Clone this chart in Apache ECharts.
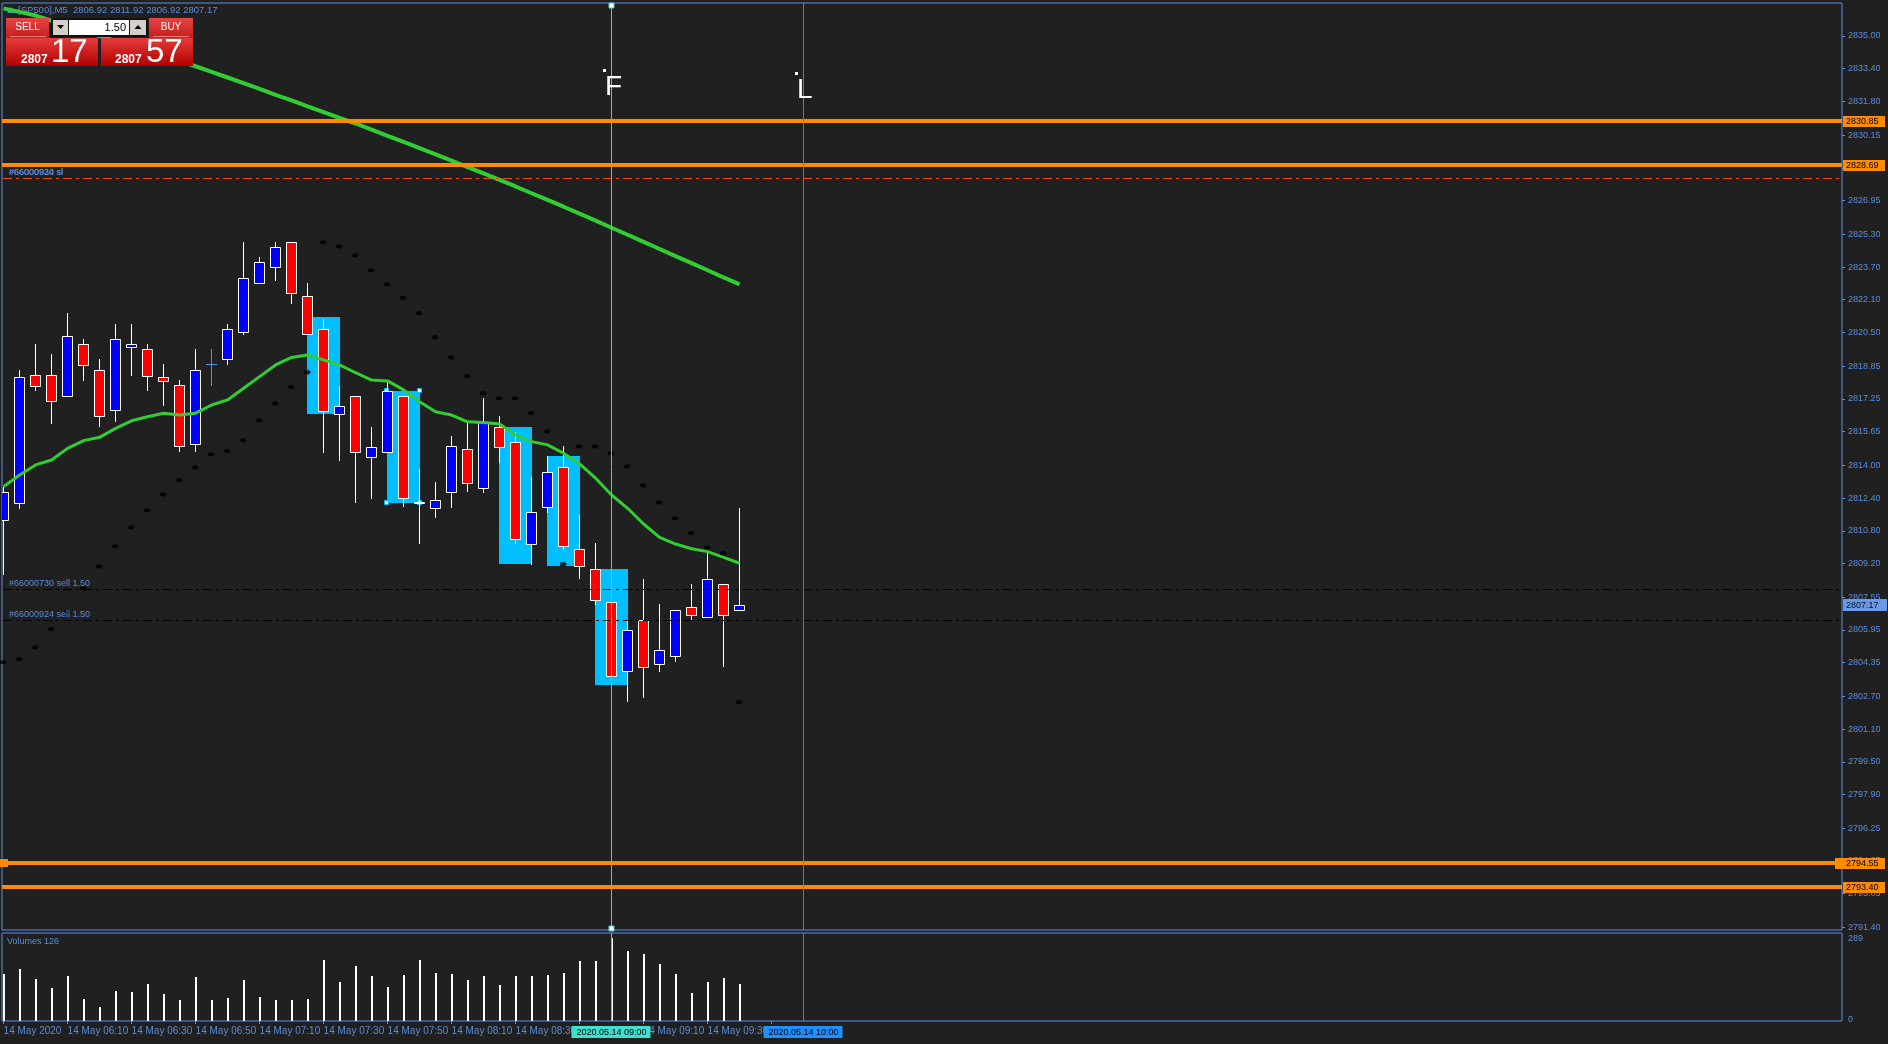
<!DOCTYPE html>
<html>
<head>
<meta charset="utf-8">
<title>[SP500],M5</title>
<script src="https://cdn.jsdelivr.net/npm/echarts@6.0.0/dist/echarts.min.js"></script>
<style>
html,body{margin:0;padding:0;background:#202020;overflow:hidden;}
#chart{width:1888px;height:1044px;}
</style>
</head>
<body>
<div id="chart"></div>
<script>
// ================= DATA =================
const symbolName = '[SP500],M5';
const timeLabels = ['14 May 2020','14 May 06:10','14 May 06:30','14 May 06:50','14 May 07:10','14 May 07:30',
  '14 May 07:50','14 May 08:10','14 May 08:30','14 May 08:50','14 May 09:10','14 May 09:30','14 May 09:50'];
const timeLabelIdx = [0,4,8,12,16,20,24,28,32,36,40,44,48];

const opens = [2811.31,2812.14,2818.40,2818.40,2817.41,2819.92,2818.65,2816.69,2819.77,2819.68,
  2818.31,2817.92,2815.03,2818.94,2819.19,2820.54,2822.90,2823.69,2824.91,2822.27,
  2820.65,2816.50,2817.38,2814.39,2814.64,2817.39,2812.20,2811.90,2812.68,2814.78,
  2812.88,2815.86,2815.13,2810.14,2811.95,2813.90,2809.89,2808.92,2807.30,2803.92,
  2806.42,2804.27,2804.66,2807.06,2806.57,2808.18,2806.92];
const highs = [2812.93,2818.66,2819.94,2819.45,2821.45,2820.18,2819.20,2820.91,2820.91,2819.94,
  2818.96,2818.17,2819.69,2819.69,2820.91,2824.92,2824.19,2824.92,2824.91,2822.92,
  2821.14,2817.87,2817.38,2815.89,2818.17,2817.39,2813.82,2813.19,2815.44,2816.13,
  2817.29,2816.41,2815.62,2813.43,2814.46,2814.95,2811.56,2810.19,2810.68,2806.42,
  2808.44,2807.22,2806.91,2808.20,2809.73,2808.18,2811.92];
const lows = [2808.64,2811.88,2817.65,2816.02,2817.35,2818.14,2815.89,2816.13,2818.38,2817.65,
  2816.92,2814.67,2814.67,2817.90,2818.92,2820.39,2822.90,2823.03,2821.91,2820.41,
  2814.62,2814.23,2812.14,2812.37,2814.64,2811.98,2810.14,2811.41,2811.90,2812.68,
  2812.63,2814.13,2810.14,2809.14,2811.65,2809.87,2808.43,2807.15,2803.44,2802.42,
  2802.63,2803.91,2804.40,2806.40,2806.57,2804.15,2806.92];
const closes = [2812.70,2818.31,2817.90,2817.16,2820.31,2818.92,2816.40,2820.16,2819.92,2818.38,
  2818.14,2814.93,2818.65,2818.94,2820.65,2823.15,2823.93,2824.66,2822.42,2820.41,
  2816.64,2816.89,2814.64,2814.88,2817.64,2812.39,2812.17,2812.29,2814.93,2813.12,
  2816.11,2814.88,2810.38,2811.70,2813.66,2810.04,2809.06,2807.40,2803.68,2805.93,
  2804.15,2804.95,2806.91,2806.67,2808.43,2806.67,2807.17];
const volumes = [162,180,144,112,155,73,44,101,98,126,
  90,69,151,69,76,140,80,69,69,73,
  212,133,190,155,115,158,212,165,162,140,
  155,122,155,155,158,165,208,208,289,244,
  233,197,162,94,133,147,126];
const maFast = [2812.96,2813.53,2814.02,2814.26,2814.83,2815.21,2815.37,2815.81,2816.18,2816.38,
  2816.55,2816.46,2816.55,2816.95,2817.20,2817.77,2818.34,2818.91,2819.28,2819.40,
  2819.15,2818.91,2818.53,2818.17,2818.13,2817.69,2817.11,2816.62,2816.46,2816.13,
  2816.09,2816.02,2815.48,2815.16,2815.00,2814.59,2814.07,2813.37,2812.55,2811.90,
  2811.13,2810.48,2810.15,2809.92,2809.78,2809.50,2809.21];
const maSlow = [2836.35,2836.18,2836.00,2835.75,2835.50,2835.25,2835.00,2834.76,2834.51,2834.26,
  2834.02,2833.77,2833.52,2833.24,2832.97,2832.69,2832.41,2832.12,2831.85,2831.56,
  2831.28,2831.00,2830.72,2830.42,2830.12,2829.82,2829.52,2829.21,2828.90,2828.59,
  2828.28,2827.96,2827.64,2827.31,2826.98,2826.65,2826.31,2825.97,2825.62,2825.28,
  2824.93,2824.58,2824.23,2823.89,2823.54,2823.19,2822.85];
const sar = [2804.37,2804.51,2805.10,2805.98,2806.81,2807.99,2809.06,2810.04,2810.97,2811.80,
  2812.58,2813.27,2813.90,2814.54,2814.69,2815.22,2816.20,2817.03,2817.82,2818.55,
  2824.91,2824.71,2824.27,2823.54,2822.86,2822.19,2821.44,2820.26,2819.28,2818.36,
  2817.52,2817.28,2817.28,2816.55,2815.67,2809.16,2814.93,2814.93,2814.59,2813.95,
  2813.02,2812.19,2811.41,2810.68,2809.99,2809.70,2802.42];
const priceTicks = [2835.00,2833.40,2831.80,2830.15,2828.55,2826.95,2825.30,2823.70,2822.10,2820.50,
  2818.85,2817.25,2815.65,2814.00,2812.40,2810.80,2809.20,2807.55,2805.95,2804.35,
  2802.70,2801.10,2799.50,2797.90,2796.25,2794.65,2793.05,2791.40];
const volumeTicks = [0, 289];
const levels = [2830.85, 2828.69, 2794.55, 2793.40];
const levelSelected = [false, false, true, false];
const orderPrices = [2828.04, 2828.04, 2807.94, 2806.42];
const orderTexts = ['#66000930 sl', '#66000924 sl', '#66000730 sell 1.50', '#66000924 sell 1.50'];
const orderKinds = ['sl', 'sl', 'open', 'open'];
const boxStart = [19, 24, 31, 34, 37];
const boxEnd = [21, 26, 33, 36, 39];
const boxHigh = [2821.26, 2817.64, 2815.88, 2814.46, 2808.93];
const boxLow = [2816.53, 2812.17, 2809.19, 2809.08, 2803.26];
const boxSelected = [false, true, false, false, false];
const vlineIdx = [38, 50];
const vlineLabels = ['2020.05.14 09:00', '2020.05.14 10:00'];
const textMarkIdx = [37.5, 49.5];
const textMarkPrice = [2833.39, 2833.24];
const textMarkText = ['F', 'L'];
const askPrice = 2807.57;
const lotSize = '1.50';

// ================= STYLE =================
const BG = '#202020';
const BLUE_TXT = '#5a8cdc';
const FRAME = '#5a8ce6';
const UP_COLOR = '#0000ff';
const DOWN_COLOR = '#ff0000';
const DOJI_COLOR = '#5c8ee0';
const ORANGE = '#ff8c00';
const CYAN_BOX = '#00bfff';
const GREEN = '#32cd32';
const FONT = '"Liberation Sans", Arial, sans-serif';
const VLINE_COLORS = ['#4fc9c9', '#3f82d8'];
const VLINE_BOX = ['#40e0d0', '#1e90ff'];

const N = opens.length;
const lastIdx = N - 1;
const bid = closes[lastIdx];

// ================= RENDERERS =================
function renderCandle(params, api) {
  const i = api.value(0), o = api.value(1), h = api.value(2), l = api.value(3), c = api.value(4);
  const pO = api.coord([i, o]);
  const px = Math.floor(pO[0]);
  const wx = px + 0.5;
  const yO = pO[1], yC = api.coord([i, c])[1];
  const yH = Math.round(api.coord([i, h])[1]), yL = Math.round(api.coord([i, l])[1]);
  if (o === c) {
    const y = Math.round(yO) + 0.5;
    return {type: 'group', children: [
      {type: 'line', shape: {x1: wx, y1: yH, x2: wx, y2: yL}, style: {stroke: DOJI_COLOR, lineWidth: 1}},
      {type: 'line', shape: {x1: px - 5, y1: y, x2: px + 6, y2: y}, style: {stroke: DOJI_COLOR, lineWidth: 1}}
    ]};
  }
  const top = Math.round(Math.min(yO, yC)) + 0.5;
  const bot = Math.round(Math.max(yO, yC)) + 0.5;
  return {type: 'group', children: [
    {type: 'line', shape: {x1: wx, y1: yH, x2: wx, y2: yL}, style: {stroke: '#ffffff', lineWidth: 1}},
    {type: 'rect', shape: {x: px - 4.5, y: top, width: 10, height: Math.max(bot - top, 1)},
     style: {fill: c > o ? UP_COLOR : DOWN_COLOR, stroke: '#ffffff', lineWidth: 1}}
  ]};
}

function renderBox(params, api) {
  const k = params.dataIndex;
  const a = api.coord([api.value(0), api.value(1)]);
  const b = api.coord([api.value(2), api.value(3)]);
  const x1 = Math.floor(a[0]), x2 = Math.floor(b[0]) + 1;
  const y1 = Math.round(a[1]), y2 = Math.round(b[1]);
  const children = [{type: 'rect', shape: {x: x1, y: y1, width: x2 - x1, height: y2 - y1}, style: {fill: CYAN_BOX}}];
  if (boxSelected[k]) {
    [[x1, y1], [x2, y1], [x1, y2], [x2, y2]].forEach(p => {
      children.push({type: 'rect', shape: {x: p[0] - 2.5, y: p[1] - 2.5, width: 4, height: 4},
        style: {fill: '#ffffff', stroke: CYAN_BOX, lineWidth: 1}});
    });
  }
  return {type: 'group', children};
}

function renderVolume(params, api) {
  const i = api.value(0), v = api.value(1);
  const p = api.coord([i, v]);
  const cs = params.coordSys;
  const px = Math.floor(p[0]);
  const y = Math.round(p[1]);
  return {type: 'rect', shape: {x: px, y: y, width: 2, height: cs.y + cs.height - y}, style: {fill: '#ffffff'}};
}

function renderLevel(params, api) {
  const p = api.value(1), k = params.dataIndex;
  const cs = params.coordSys;
  const y = Math.round(api.coord([0, p])[1]);
  const right = cs.x + cs.width;
  const sel = levelSelected[k];
  const children = [
    {type: 'rect', shape: {x: cs.x, y: y - 2, width: cs.width, height: 4}, style: {fill: ORANGE}},
    {type: 'rect', shape: {x: sel ? right - 7 : right + 1, y: y - 5, width: sel ? 50 : 42, height: 11}, style: {fill: ORANGE}},
    {type: 'text', style: {x: right + 4, y: y + 0.5, text: p.toFixed(2), fill: '#000000', fontSize: 9, fontFamily: FONT, verticalAlign: 'middle'}}
  ];
  if (sel) {
    children.push({type: 'rect', shape: {x: cs.x - 2, y: y - 4, width: 8, height: 8}, style: {fill: ORANGE}});
  }
  return {type: 'group', children};
}

function renderOrder(params, api) {
  const p = api.value(1), k = params.dataIndex;
  const cs = params.coordSys;
  const y = Math.round(api.coord([0, p])[1]) + 0.5;
  const sl = orderKinds[k] === 'sl';
  return {type: 'group', children: [
    {type: 'line', shape: {x1: cs.x + 1, y1: y, x2: cs.x + cs.width, y2: y},
     style: {stroke: sl ? '#ff4500' : '#000000', lineWidth: 1, lineDash: [9, 4, 3, 4]}},
    {type: 'text', style: {x: cs.x + 7, y: y - 5.5, text: orderTexts[k], fill: BLUE_TXT, fontSize: 9, fontFamily: FONT, verticalAlign: 'middle'}}
  ]};
}

function renderVlineMain(params, api) {
  const k = params.dataIndex;
  const cs = params.coordSys;
  const x = Math.floor(api.coord([api.value(0), 2800])[0]) + 0.5;
  const children = [{type: 'line', shape: {x1: x, y1: cs.y, x2: x, y2: cs.y + cs.height}, style: {stroke: VLINE_COLORS[k], lineWidth: 1}}];
  if (k === 0) {
    [cs.y + 2, cs.y + cs.height - 2].forEach(yy => {
      children.push({type: 'rect', shape: {x: x - 2.5, y: yy - 2, width: 5, height: 5}, style: {fill: '#ffffff', stroke: VLINE_COLORS[k], lineWidth: 1}});
    });
  }
  return {type: 'group', children};
}

function renderVlineVol(params, api) {
  const k = params.dataIndex;
  const cs = params.coordSys;
  const x = Math.floor(api.coord([api.value(0), 0])[0]) + 0.5;
  const bottom = cs.y + cs.height;
  return {type: 'group', children: [
    {type: 'line', shape: {x1: x, y1: cs.y, x2: x, y2: bottom}, style: {stroke: VLINE_COLORS[k], lineWidth: 1}},
    {type: 'rect', shape: {x: x - 40, y: bottom + 5, width: 79, height: 12}, style: {fill: VLINE_BOX[k]}},
    {type: 'text', style: {x: x, y: bottom + 11.5, text: vlineLabels[k], fill: '#000000', fontSize: 9, fontFamily: FONT, align: 'center', verticalAlign: 'middle'}}
  ]};
}

function renderTextMark(params, api) {
  const k = params.dataIndex;
  const p = api.coord([api.value(0), api.value(1)]);
  const x = Math.floor(p[0]), y = Math.round(p[1]);
  return {type: 'group', children: [
    {type: 'rect', shape: {x: x, y: y, width: 3, height: 3}, style: {fill: '#ffffff'}},
    {type: 'text', style: {x: x + 2, y: y + 18, text: textMarkText[k], fill: '#ffffff', fontSize: 28, fontFamily: FONT, verticalAlign: 'middle'}}
  ]};
}

function renderBidLabel(params, api) {
  const cs = params.coordSys;
  const y = Math.round(api.coord([0, api.value(1)])[1]);
  const right = cs.x + cs.width;
  return {type: 'group', children: [
    {type: 'rect', shape: {x: right + 1, y: y - 6, width: 44, height: 12}, style: {fill: '#6a9ae6'}},
    {type: 'text', style: {x: right + 4, y: y + 0.5, text: api.value(1).toFixed(2), fill: '#0a1428', fontSize: 9, fontFamily: FONT, verticalAlign: 'middle'}}
  ]};
}

// ================= CHART =================
const X_MIN = -0.1, X_MAX = 114.9;
const candleData = opens.map((o, i) => [i, o, highs[i], lows[i], closes[i]]);
const boxData = boxStart.map((s, k) => [s, boxHigh[k], boxEnd[k], boxLow[k]]);

const priceSplit = p => { const s = p.toFixed(2); return [s.slice(0, s.indexOf('.')), s.slice(s.indexOf('.') + 1)]; };
const bidParts = priceSplit(bid), askParts = priceSplit(askPrice);
const redGrad = {type: 'linear', x: 0, y: 0, x2: 0, y2: 1, colorStops: [{offset: 0, color: '#e43c3c'}, {offset: 1, color: '#b20000'}]};
const btnGrad = {type: 'linear', x: 0, y: 0, x2: 0, y2: 1, colorStops: [{offset: 0, color: '#e64444'}, {offset: 1, color: '#c41e1e'}]};

const chart = echarts.init(document.getElementById('chart'), null, {renderer: 'canvas', width: 1888, height: 1044});

const option = {
  animation: false,
  backgroundColor: BG,
  grid: [
    {left: 2, top: 3, width: 1840, height: 927, show: true, borderColor: FRAME, borderWidth: 1, backgroundColor: 'transparent'},
    {left: 2, top: 933, width: 1840, height: 88, show: true, borderColor: FRAME, borderWidth: 1, backgroundColor: 'transparent'}
  ],
  xAxis: [
    {type: 'value', gridIndex: 0, min: X_MIN, max: X_MAX, show: false, axisLine: {onZero: false}},
    {type: 'value', gridIndex: 1, min: X_MIN, max: X_MAX,
     axisLine: {show: false, onZero: false}, splitLine: {show: false},
     axisTick: {show: true, customValues: timeLabelIdx, length: 3, lineStyle: {color: FRAME}},
     axisLabel: {show: true, customValues: timeLabelIdx, color: BLUE_TXT, fontSize: 10, fontFamily: FONT, align: 'left', margin: 5,
       formatter: v => timeLabels[timeLabelIdx.indexOf(Math.round(v))] || ''}}
  ],
  yAxis: [
    {type: 'value', gridIndex: 0, position: 'right', min: 2791.273, max: 2836.614,
     axisLine: {show: false, onZero: false}, splitLine: {show: false},
     axisTick: {show: true, customValues: priceTicks, length: 3, lineStyle: {color: FRAME}},
     axisLabel: {show: true, customValues: priceTicks, color: BLUE_TXT, fontSize: 9, fontFamily: FONT, margin: 6,
       formatter: v => Number(v).toFixed(2)}},
    {type: 'value', gridIndex: 1, position: 'right', min: -5.34, max: 307.86,
     axisLine: {show: false, onZero: false}, splitLine: {show: false}, axisTick: {show: false},
     axisLabel: {show: true, customValues: volumeTicks, color: BLUE_TXT, fontSize: 9, fontFamily: FONT, margin: 6,
       formatter: v => String(Math.round(v))}}
  ],
  series: [
    {type: 'custom', name: 'zones', xAxisIndex: 0, yAxisIndex: 0, z: 1, clip: true, renderItem: renderBox, data: boxData},
    {type: 'custom', name: 'candles', xAxisIndex: 0, yAxisIndex: 0, z: 2, clip: true, renderItem: renderCandle, data: candleData},
    {type: 'line', name: 'MA slow', xAxisIndex: 0, yAxisIndex: 0, z: 3, clip: true, showSymbol: false, symbol: 'none',
     lineStyle: {color: GREEN, width: 4}, data: maSlow.map((v, i) => [i, v])},
    {type: 'line', name: 'MA fast', xAxisIndex: 0, yAxisIndex: 0, z: 3, clip: true, showSymbol: false, symbol: 'none',
     lineStyle: {color: GREEN, width: 3}, data: maFast.map((v, i) => [i, v])},
    {type: 'scatter', name: 'SAR', xAxisIndex: 0, yAxisIndex: 0, z: 4,
     symbol: 'path://M0 1H3V0L6 2.5L3 5V4H0Z', symbolSize: [7, 6], itemStyle: {color: '#000000'},
     data: sar.map((v, i) => [i, v])},
    {type: 'custom', name: 'orders', xAxisIndex: 0, yAxisIndex: 0, z: 5, renderItem: renderOrder, data: orderPrices.map(p => [0, p])},
    {type: 'custom', name: 'levels', xAxisIndex: 0, yAxisIndex: 0, z: 6, renderItem: renderLevel, data: levels.map(p => [0, p])},
    {type: 'custom', name: 'bid', xAxisIndex: 0, yAxisIndex: 0, z: 6, renderItem: renderBidLabel, data: [[0, bid]]},
    {type: 'custom', name: 'vlines', xAxisIndex: 0, yAxisIndex: 0, z: 7, renderItem: renderVlineMain, data: vlineIdx.map(i => [i, 2800])},
    {type: 'custom', name: 'texts', xAxisIndex: 0, yAxisIndex: 0, z: 7, renderItem: renderTextMark,
     data: textMarkIdx.map((i, k) => [i, textMarkPrice[k]])},
    {type: 'custom', name: 'volume', xAxisIndex: 1, yAxisIndex: 1, z: 2, clip: true, renderItem: renderVolume, data: volumes.map((v, i) => [i, v])},
    {type: 'custom', name: 'vlinesVol', xAxisIndex: 1, yAxisIndex: 1, z: 7, renderItem: renderVlineVol, data: vlineIdx.map(i => [i, 0])}
  ],
  graphic: [
    // chart title
    {type: 'polygon', z: 1, shape: {points: [[7, 13], [11, 7], [15, 13]]}, style: {fill: BLUE_TXT}},
    {type: 'text', z: 1, x: 18, y: 10, style: {text: symbolName + '  ' + [opens[lastIdx], highs[lastIdx], lows[lastIdx], closes[lastIdx]].map(v => v.toFixed(2)).join(' '),
      fill: BLUE_TXT, fontSize: 9.5, fontFamily: FONT, verticalAlign: 'middle'}},
    // volume pane title
    {type: 'text', z: 10, x: 7, y: 941.5, style: {text: 'Volumes ' + volumes[lastIdx], fill: BLUE_TXT, fontSize: 9, fontFamily: FONT, verticalAlign: 'middle'}},
    // one-click trading panel
    {type: 'rect', z: 100, shape: {x: 6, y: 18, width: 43, height: 20}, style: {fill: btnGrad}},
    {type: 'line', z: 101, shape: {x1: 10, y1: 36.5, x2: 46, y2: 36.5}, style: {stroke: '#f07a7a', lineWidth: 1}},
    {type: 'text', z: 101, x: 27.5, y: 27.5, style: {text: 'SELL', fill: '#ffffff', fontSize: 10, fontFamily: '"Liberation Sans Narrow", ' + FONT, align: 'center', verticalAlign: 'middle'}},
    {type: 'rect', z: 100, shape: {x: 51, y: 18, width: 97, height: 19}, style: {fill: '#111111'}},
    {type: 'rect', z: 101, shape: {x: 53, y: 20, width: 15, height: 15}, style: {fill: '#d4d0c8'}},
    {type: 'polygon', z: 102, shape: {points: [[57, 25], [64, 25], [60.5, 29]]}, style: {fill: '#000000'}},
    {type: 'rect', z: 101, shape: {x: 69, y: 20, width: 60, height: 15}, style: {fill: '#ffffff'}},
    {type: 'text', z: 102, x: 126, y: 27.5, style: {text: lotSize, fill: '#000000', fontSize: 11, fontFamily: FONT, align: 'right', verticalAlign: 'middle'}},
    {type: 'rect', z: 101, shape: {x: 130, y: 20, width: 16, height: 15}, style: {fill: '#d4d0c8'}},
    {type: 'polygon', z: 102, shape: {points: [[134.5, 29], [141.5, 29], [138, 25]]}, style: {fill: '#000000'}},
    {type: 'rect', z: 100, shape: {x: 149, y: 18, width: 44, height: 20}, style: {fill: btnGrad}},
    {type: 'line', z: 101, shape: {x1: 153, y1: 36.5, x2: 189, y2: 36.5}, style: {stroke: '#f07a7a', lineWidth: 1}},
    {type: 'text', z: 101, x: 171, y: 27.5, style: {text: 'BUY', fill: '#ffffff', fontSize: 10, fontFamily: '"Liberation Sans Narrow", ' + FONT, align: 'center', verticalAlign: 'middle'}},
    {type: 'rect', z: 100, shape: {x: 6, y: 38, width: 92, height: 28}, style: {fill: redGrad}},
    {type: 'rect', z: 100, shape: {x: 101, y: 38, width: 92, height: 28}, style: {fill: redGrad}},
    {type: 'text', z: 101, x: 21, y: 60, style: {text: bidParts[0], fill: '#ffffff', fontSize: 12, fontWeight: 'bold', fontFamily: FONT, verticalAlign: 'middle'}},
    {type: 'text', z: 101, x: 51, y: 52.5, style: {text: bidParts[1], fill: '#ffffff', fontSize: 33, fontFamily: FONT, verticalAlign: 'middle'}},
    {type: 'text', z: 101, x: 115, y: 60, style: {text: askParts[0], fill: '#ffffff', fontSize: 12, fontWeight: 'bold', fontFamily: FONT, verticalAlign: 'middle'}},
    {type: 'text', z: 101, x: 146, y: 52.5, style: {text: askParts[1], fill: '#ffffff', fontSize: 33, fontFamily: FONT, verticalAlign: 'middle'}}
  ]
};
chart.setOption(option);
</script>
</body>
</html>
